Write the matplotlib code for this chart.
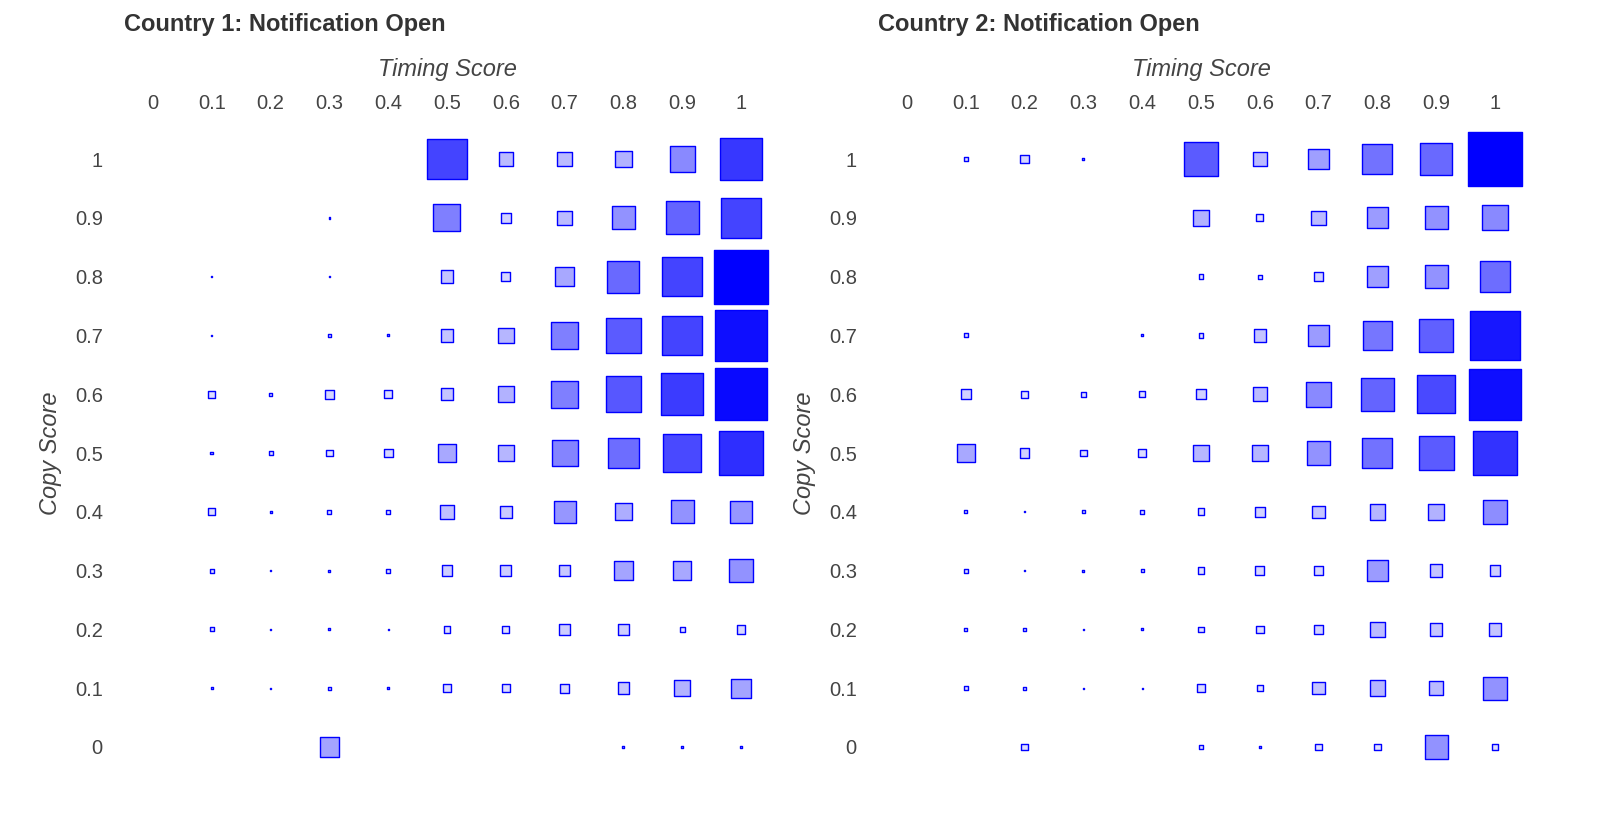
import numpy as np
import matplotlib.pyplot as plt

plt.rcParams['font.family'] = ['Liberation Sans', 'DejaVu Sans']

# Timing score (columns) and copy score (rows, top to bottom)
timing = [0, 0.1, 0.2, 0.3, 0.4, 0.5, 0.6, 0.7, 0.8, 0.9, 1]
copy_scores = [1, 0.9, 0.8, 0.7, 0.6, 0.5, 0.4, 0.3, 0.2, 0.1, 0]
tick_labels = ['0', '0.1', '0.2', '0.3', '0.4', '0.5', '0.6', '0.7', '0.8', '0.9', '1']

# notification open magnitude per cell (0 = no data)
c1_open = [
    [0, 0, 0, 0, 0, 41, 15, 15, 17, 26, 44],
    [0, 0, 0, 1.5, 0, 28, 10, 15, 24, 34, 41],
    [0, 1, 0, 1, 0, 13, 9, 19, 33, 41, 56],
    [0, 1, 0, 3, 2, 13, 16, 28, 36, 41, 53],
    [0, 7, 3, 9, 8, 13, 17, 28, 37, 43, 54],
    [0, 3, 4, 7, 9, 19, 16, 27, 32, 40, 46],
    [0, 7, 2, 4, 4, 14, 12, 23, 18, 24, 23],
    [0, 4, 1, 2, 4, 11, 11, 12, 20, 19, 24],
    [0, 4, 1, 2, 1, 7, 7, 11, 11, 5, 9],
    [0, 2, 1, 3, 2, 8, 8, 9, 12, 17, 20],
    [0, 0, 0, 20, 0, 0, 0, 0, 2, 2, 3],
]
c2_open = [
    [0, 4, 9, 2, 0, 36, 15, 21, 31, 33, 56],
    [0, 0, 0, 0, 0, 17, 7, 15, 22, 24, 26],
    [0, 0, 0, 0, 0, 5, 4, 10, 21, 24, 32],
    [0, 4, 0, 0, 2, 5, 13, 22, 30, 35, 51],
    [0, 10, 7, 5, 6, 10, 15, 26, 34, 40, 53],
    [0, 19, 10, 7, 8, 16, 16, 24, 31, 36, 45],
    [0, 3, 1, 3, 4, 7, 10, 13, 16, 17, 25],
    [0, 4, 1, 2, 3, 7, 9, 9, 22, 13, 11],
    [0, 3, 3, 1, 2, 6, 8, 10, 15, 13, 13],
    [0, 4, 3, 1, 1, 8, 6, 13, 16, 15, 24],
    [0, 0, 7, 0, 0, 4, 2, 7, 7, 24, 7],
]
titles = ['Country 1: Notification Open', 'Country 2: Notification Open']

DPI = 100
MAX_SIDE_PX = 54
vmax = max(np.max(c1_open), np.max(c2_open))

fig = plt.figure(figsize=(16, 8.19), dpi=DPI)
txt = '#444444'

lefts = [123.6 / 1600, 877.6 / 1600]
for i, (vals, title) in enumerate(zip([c1_open, c2_open], titles)):
    ax = fig.add_axes([lefts[i], 42.6 / 819, 646.8 / 1600, 646.8 / 819])
    v = np.array(vals, dtype=float)
    X, Y = np.meshgrid(timing, copy_scores)
    m = v > 0
    side_pt = v[m] / vmax * MAX_SIDE_PX * 72 / DPI
    alpha = np.clip(v[m] / vmax, 0.12, 1.0)
    colors = np.zeros((m.sum(), 4))
    colors[:, 2] = 1.0
    colors[:, 3] = alpha
    ax.scatter(X[m], Y[m], s=side_pt ** 2, marker='s', c=colors,
               edgecolors='#0000ff', linewidths=1.0)

    ax.set_xlim(-0.05, 1.05)
    ax.set_ylim(-0.05, 1.05)
    ax.xaxis.tick_top()
    ax.set_xticks(timing)
    ax.set_xticklabels(tick_labels)
    ax.set_yticks(copy_scores)
    ax.set_yticklabels(tick_labels[::-1])
    ax.tick_params(length=0, labelsize=14.5, colors=txt)
    ax.tick_params(axis='x', pad=12)
    ax.tick_params(axis='y', pad=15)
    for s in ax.spines.values():
        s.set_visible(False)
    ax.set_xlabel('Timing Score', fontsize=17, style='italic', color=txt, labelpad=13)
    ax.xaxis.set_label_position('top')
    ax.set_ylabel('Copy Score', fontsize=17, style='italic', color=txt, labelpad=9)

    fig.text(lefts[i] + 0.6 / 1600, 1 - 24 / 819, title, fontsize=17,
             fontweight='bold', color='#333333', va='center', ha='left')

fig.savefig('out.png', dpi=DPI, facecolor='white')
